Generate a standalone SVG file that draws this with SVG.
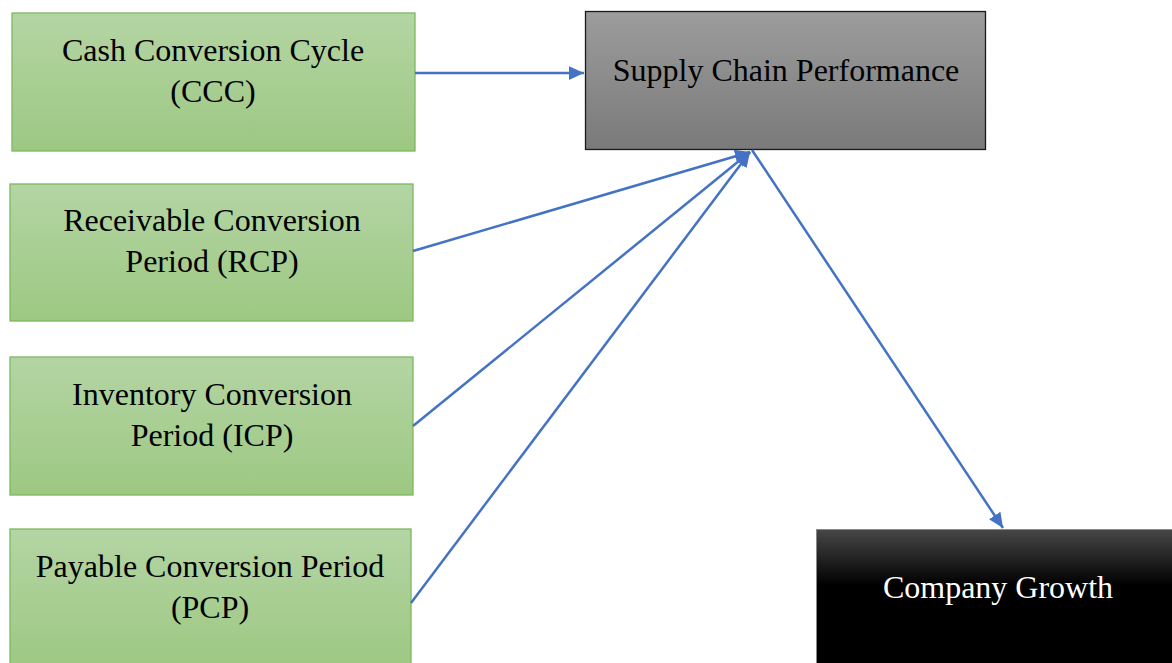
<svg xmlns="http://www.w3.org/2000/svg" width="1172" height="663" viewBox="0 0 1172 663">
<defs>
<linearGradient id="gGreen" x1="0" y1="0" x2="0" y2="1">
<stop offset="0" stop-color="#b4d5a4"/>
<stop offset="1" stop-color="#9dc882"/>
</linearGradient>
<linearGradient id="gGray" x1="0" y1="0" x2="0" y2="1">
<stop offset="0" stop-color="#9c9c9c"/>
<stop offset="1" stop-color="#7a7a7a"/>
</linearGradient>
<linearGradient id="gBlack" x1="0" y1="0" x2="0" y2="1">
<stop offset="0" stop-color="#474747"/>
<stop offset="0.4" stop-color="#000000"/>
<stop offset="1" stop-color="#000000"/>
</linearGradient>
<marker id="arr" viewBox="0 0 10 10" refX="10" refY="5" markerWidth="6" markerHeight="5.5" markerUnits="strokeWidth" orient="auto" preserveAspectRatio="none">
<path d="M0,0 L10,5 L0,10 z" fill="#4472c4"/>
</marker>
</defs>
<style>
.g{fill:url(#gGreen);stroke:#7cb85f;stroke-width:1.3}
.t{font-family:"Liberation Serif","Times New Roman",serif;font-size:32px;fill:#000;text-anchor:middle}
.w{fill:#fff}
.c{stroke:#4472c4;stroke-width:2.5;fill:none}
</style>
<rect width="1172" height="663" fill="#fff"/>
<g id="ccc">
<rect class="g" x="12" y="13" width="403" height="138"/>
<text class="t" x="213" y="61">Cash Conversion Cycle</text>
<text class="t" x="213" y="102">(CCC)</text>
</g>
<g id="rcp">
<rect class="g" x="10" y="184" width="403" height="137"/>
<text class="t" x="212" y="231">Receivable Conversion</text>
<text class="t" x="212" y="272">Period (RCP)</text>
</g>
<g id="icp">
<rect class="g" x="10" y="357" width="403" height="138"/>
<text class="t" x="212" y="405">Inventory Conversion</text>
<text class="t" x="212" y="446">Period (ICP)</text>
</g>
<g id="pcp">
<rect class="g" x="10" y="529" width="401" height="140"/>
<text class="t" x="210" y="577">Payable Conversion Period</text>
<text class="t" x="210" y="618">(PCP)</text>
</g>
<g id="scp">
<rect x="585.5" y="11.5" width="400" height="138" fill="url(#gGray)" stroke="#1a1a1a" stroke-width="1.3"/>
<text class="t" x="786" y="81">Supply Chain Performance</text>
</g>
<g id="cg">
<rect x="816.5" y="529.5" width="360" height="140" fill="url(#gBlack)" stroke="#888" stroke-width="1"/>
<text class="t w" x="998" y="598">Company Growth</text>
</g>
<g id="connectors">
<line class="c" x1="415" y1="73" x2="584" y2="73" marker-end="url(#arr)"/>
<line class="c" x1="413" y1="251" x2="750" y2="152" marker-end="url(#arr)"/>
<line class="c" x1="413" y1="426" x2="750" y2="152" marker-end="url(#arr)"/>
<line class="c" x1="411" y1="603" x2="750" y2="152" marker-end="url(#arr)"/>
<line class="c" x1="752" y1="150" x2="1003" y2="528" marker-end="url(#arr)"/>
</g>
</svg>
